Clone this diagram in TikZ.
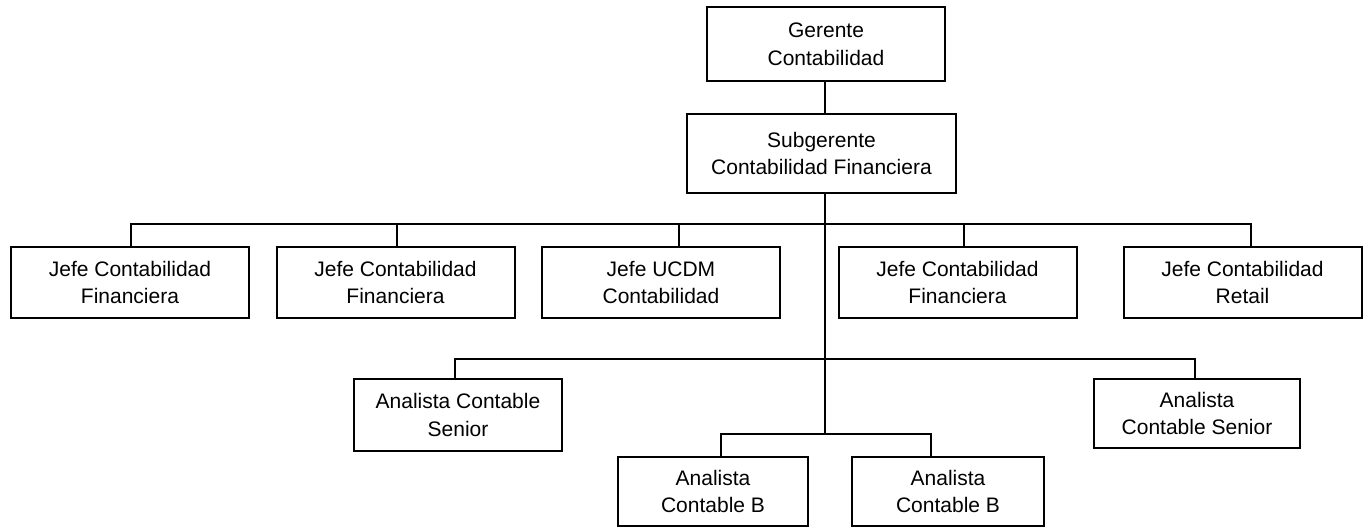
\documentclass[tikz,border=0pt]{standalone}
\usepackage{fontspec}
\setmainfont{Liberation Sans}
\usetikzlibrary{positioning,calc}

\begin{document}
\begin{tikzpicture}[x=0.5pt, y=-0.5pt, line width=1pt,
  cargo/.style={draw, rectangle, align=center, inner sep=2pt,
    minimum width=119pt, minimum height=35.5pt,
    font=\fontsize{10.5}{13.8}\selectfont}]
\useasboundingbox (0,0) rectangle (1366,529);
\node[cargo, minimum height=37pt]                       (ger) at (826,44)    {Gerente\\Contabilidad};
\node[cargo, minimum width=134.5pt, minimum height=39.5pt] (sub) at (821.5,153.5) {Subgerente\\Contabilidad Financiera};
%
\node[cargo] (j1) at (130,282.5)    {Jefe Contabilidad\\Financiera};
\node[cargo] (j2) at (395.5,282.5)  {Jefe Contabilidad\\Financiera};
\node[cargo] (j3) at (661,282.5)    {Jefe UCDM\\Contabilidad};
\node[cargo] (j4) at (957.5,282.5)  {Jefe Contabilidad\\Financiera};
\node[cargo] (j5) at (1242.5,282.5) {Jefe Contabilidad\\Retail};
%
\node[cargo, minimum width=104pt, minimum height=36pt]   (a1) at (458,415)    {Analista Contable\\Senior};
\node[cargo, minimum width=103pt, minimum height=34.5pt] (a2) at (1197,413.5) {Analista\\Contable Senior};
%
\node[cargo, minimum width=95pt, minimum height=34.5pt] (b1) at (713,491.5) {Analista\\Contable B};
\node[cargo, minimum width=96pt, minimum height=34.5pt] (b2) at (948,491.5) {Analista\\Contable B};
%
\coordinate (t1) at (825,224);
\coordinate (t2) at (825,359);
\coordinate (t3) at (825,434);
%
\draw (ger.south -| t1) -- (sub.north -| t1);
\draw (sub.south -| t1) -- (t3);
\foreach \n/\dx in {j1/1, j2/1.5, j3/18, j4/6.5, j5/8.5}
  \draw ([shift={(\dx,0)}]\n.north) |- (t1);
\foreach \n/\dx in {a1/-3, a2/-2}
  \draw ([shift={(\dx,0)}]\n.north) |- (t2);
\foreach \n/\dx in {b1/8, b2/-17}
  \draw ([shift={(\dx,0)}]\n.north) |- (t3);
\end{tikzpicture}
\end{document}
